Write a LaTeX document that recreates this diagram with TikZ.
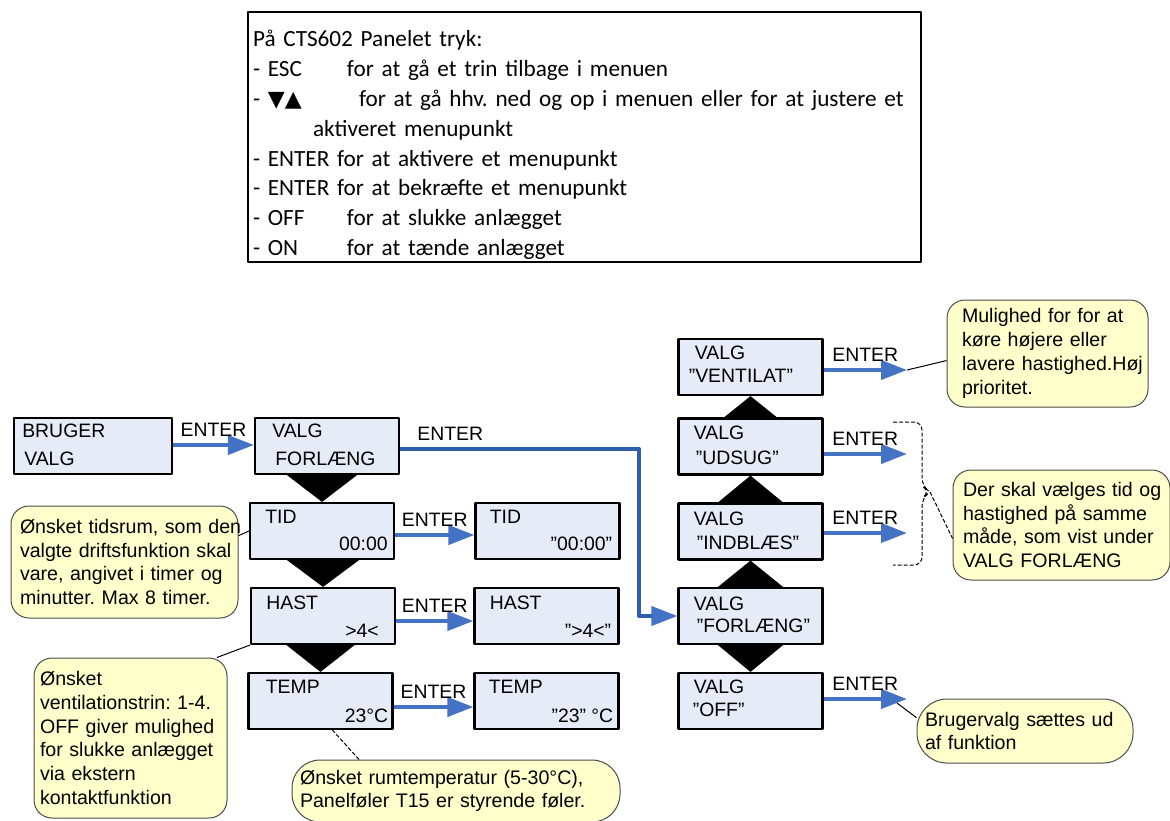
\documentclass[tikz,border=0pt]{standalone}
\usepackage{fontspec}
\setmainfont{Liberation Sans}
\newfontfamily\panelfont{Carlito}
\newfontfamily\symbolfont{DejaVu Sans}
\usetikzlibrary{arrows.meta, calc, positioning}
\definecolor{boxblue}{RGB}{230,236,247}
\definecolor{notefill}{RGB}{255,255,204}
\definecolor{arrowblue}{RGB}{68,114,196}
\definecolor{linkblue}{RGB}{47,95,170}

\begin{document}
\frenchspacing
\begin{tikzpicture}[x=0.5pt, y=-0.5pt, line join=round,
    font=\fontsize{9.7}{11.6}\selectfont,
    menubox/.style={draw=black, line width=1.1pt, fill=boxblue, minimum width=72pt, minimum height=28pt, inner sep=0pt},
    boxtxt/.style={inner sep=0pt},
    note/.style={draw=black!70, line width=0.5pt, fill=notefill, rounded corners=9pt, align=left, inner ysep=0pt, font=\fontsize{9.8}{11.9}\selectfont},
    flow/.style={draw=arrowblue, line width=2pt, -{Triangle[length=13pt, width=9.5pt, color=arrowblue]}},
    enterlbl/.style={above=3.5pt, inner sep=0pt},
    pointer/.style={draw=black, line width=0.5pt},
    panelbox/.style={draw=black, line width=0.9pt, minimum width=336.5pt, minimum height=125pt},
    paneltxt/.style={text width=331.5pt, inner xsep=2.5pt, inner ysep=0pt, align=left, font=\panelfont\fontsize{11.6}{14.9}\selectfont}]
  \useasboundingbox (0,0) rectangle (1170,820);

  % panel keys
  \node[panelbox] (panel) at (584.5,137) {};
  \node[paneltxt] (panel-text) at ($(panel.center)+(0,8)$) {På CTS602 Panelet tryk:\\
    \makebox[47pt][l]{- ESC}for at gå et trin tilbage i menuen\\
    \makebox[53pt][l]{- {\symbolfont\fontsize{11}{11}\selectfont ▼▲}}\mbox{for at gå hhv. ned og op i menuen eller for at justere et}\\
    \hspace*{30pt}aktiveret menupunkt\\
    - ENTER for at aktivere et menupunkt\\
    - ENTER for at bekræfte et menupunkt\\
    \makebox[47pt][l]{- OFF}for at slukke anlægget\\
    \makebox[47pt][l]{- ON}for at tænde anlægget};

  % menu boxes
  \node[menubox, minimum width=79pt] (bruger) at (93,446) {};
  \node[menubox] (valgf) at (327,446) {};
  \node[menubox] (tid) at (322,531) {};
  \node[menubox] (hast) at (323,616) {};
  \node[menubox] (temp) at (320.5,701) {};
  \node[menubox] (tid2) at (547.5,531) {};
  \node[menubox] (hast2) at (546.5,616) {};
  \node[menubox] (temp2) at (546.5,701) {};
  \node[menubox] (ventilat) at (750.5,367) {};
  \node[menubox] (udsug) at (750.5,446.5) {};
  \node[menubox] (indblaes) at (750.5,531.5) {};
  \node[menubox] (forlaeng) at (750.5,616) {};
  \node[menubox] (off) at (750.5,701) {};

  % box texts
  \node[boxtxt, right] (bruger-a) at ($(bruger.north west)+(9,14)$) {BRUGER};
  \node[boxtxt, right] (bruger-b) at ($(bruger.north west)+(11,42)$) {VALG};
  \node[boxtxt, right] (valgf-a) at ($(valgf.north west)+(18,14)$) {VALG};
  \node[boxtxt, right] (valgf-b) at ($(valgf.north west)+(21,42)$) {FORLÆNG};
  \node[boxtxt, right] (tid-a) at ($(tid.north west)+(16,15)$) {TID};
  \node[boxtxt, left] (tid-b) at ($(tid.south east)+(-7,-16)$) {00:00};
  \node[boxtxt, right] (hast-a) at ($(hast.north west)+(16,16)$) {HAST};
  \node[boxtxt, left] (hast-b) at ($(hast.south east)+(-17,-14)$) {>4<};
  \node[boxtxt, right] (temp-a) at ($(temp.north west)+(18,15)$) {TEMP};
  \node[boxtxt, left] (temp-b) at ($(temp.south east)+(-5,-14)$) {23°C};
  \node[boxtxt, right] (tid2-a) at ($(tid2.north west)+(15,15)$) {TID};
  \node[boxtxt, left] (tid2-b) at ($(tid2.south east)+(-8,-16)$) {”00:00"};
  \node[boxtxt, right] (hast2-a) at ($(hast2.north west)+(16,16)$) {HAST};
  \node[boxtxt, left] (hast2-b) at ($(hast2.south east)+(-8,-14)$) {”>4<”};
  \node[boxtxt, right] (temp2-a) at ($(temp2.north west)+(15,15)$) {TEMP};
  \node[boxtxt, left] (temp2-b) at ($(temp2.south east)+(-6,-14)$) {”23" °C};
  \node[boxtxt, right] (ventilat-a) at ($(ventilat.north west)+(17,15)$) {VALG};
  \node[boxtxt, right] (ventilat-b) at ($(ventilat.north west)+(11,38)$) {”VENTILAT”};
  \node[boxtxt, right] (udsug-a) at ($(udsug.north west)+(16,15)$) {VALG};
  \node[boxtxt, right] (udsug-b) at ($(udsug.north west)+(18,40)$) {”UDSUG”};
  \node[boxtxt, right] (indblaes-a) at ($(indblaes.north west)+(16,16)$) {VALG};
  \node[boxtxt, right] (indblaes-b) at ($(indblaes.north west)+(19,40)$) {”INDBLÆS”};
  \node[boxtxt, right] (forlaeng-a) at ($(forlaeng.north west)+(16,17)$) {VALG};
  \node[boxtxt, right] (forlaeng-b) at ($(forlaeng.north west)+(19,39)$) {”FORLÆNG”};
  \node[boxtxt, right] (off-a) at ($(off.north west)+(16,15)$) {VALG};
  \node[boxtxt, right] (off-b) at ($(off.north west)+(15,38)$) {”OFF”};

  % selector triangles
  \fill ($(valgf.south -| tid.north)+(-35,0)$) -- ($(valgf.south -| tid.north)+(35,0)$) -- (tid.north) -- cycle;
  \fill ($(tid.south -| hast.north)+(-36,0)$) -- ($(tid.south -| hast.north)+(36,0)$) -- (hast.north) -- cycle;
  \fill ($(hast.south -| temp.north)+(-34,0)$) -- ($(hast.south -| temp.north)+(34,0)$) -- (temp.north) -- cycle;
  \fill ($(udsug.north)+(-26.5,0)$) -- ($(udsug.north)+(26.5,0)$) -- (ventilat.south) -- cycle;
  \fill ($(indblaes.north)+(-32.5,0)$) -- ($(indblaes.north)+(32.5,0)$) -- (udsug.south) -- cycle;
  \fill ($(forlaeng.north)+(-32.5,0)$) -- ($(forlaeng.north)+(32.5,0)$) -- (indblaes.south) -- cycle;
  \fill ($(forlaeng.south)+(-32.5,0)$) -- ($(forlaeng.south)+(32.5,0)$) -- (off.north) -- cycle;

  % enter arrows
  \coordinate (ventilat-end) at (907,370);
  \coordinate (udsug-end) at (907,454);
  \coordinate (indblaes-end) at (907,533);
  \coordinate (off-end) at (907,699);
  \draw[flow] ([yshift=0.5pt]bruger.east) -- node[enterlbl] (e-bruger) {ENTER} ([yshift=0.5pt]valgf.west);
  \draw[flow, draw=linkblue] ([yshift=-1.5pt]valgf.east) -- node[enterlbl, pos=0.21] (e-valgf) {ENTER} ++(239,0) |- (forlaeng.west);
  \draw[flow] ([yshift=-2pt]tid.east) -- node[enterlbl] (e-tid) {ENTER} ([yshift=-2pt]tid2.west);
  \draw[flow] ([yshift=-2.5pt]hast.east) -- node[enterlbl] (e-hast) {ENTER} ([yshift=-2.5pt]hast2.west);
  \draw[flow] ([yshift=-3pt]temp.east) -- node[enterlbl] (e-temp) {ENTER} ([yshift=-3pt]temp2.west);
  \draw[flow] (ventilat.east |- ventilat-end) -- node[enterlbl] (e-ventilat) {ENTER} (ventilat-end);
  \draw[flow] (udsug.east |- udsug-end) -- node[enterlbl] (e-udsug) {ENTER} (udsug-end);
  \draw[flow] (indblaes.east |- indblaes-end) -- node[enterlbl] (e-indblaes) {ENTER} (indblaes-end);
  \draw[flow] (off.east |- off-end) -- node[enterlbl] (e-off) {ENTER} (off-end);

  % notes
  \node[note, text width=104.5pt, inner xsep=4.5pt, minimum height=56pt] (calltid) at (124.5,562)
    {\mbox{Ønsket tidsrum, som den}\\\mbox{valgte driftsfunktion skal}\\\mbox{vare, angivet i timer og}\\minutter. Max 8 timer.};
  \node[note, text width=90.5pt, inner xsep=3pt, minimum height=80pt] (callhast) at (130.5,738)
    {Ønsket\\\mbox{ventilationstrin: 1-4.}\\\mbox{OFF giver mulighed}\\\mbox{for slukke anlægget}\\via ekstern\\kontaktfunktion};
  \node[note, text width=156pt, inner xsep=4pt, minimum height=31pt, rounded corners=14pt] (calltemp) at (456,791)
    {Ønsket rumtemperatur (5-30°C),\\Panelføler T15 er styrende føler.};
  \node[note, text width=85.5pt, inner xsep=7.5pt, minimum height=53.5pt] (callvent) at (1047.5,353.5)
    {Mulighed for for at\\køre højere eller\\\mbox{lavere hastighed.Høj}\\prioritet.};
  \node[note, text width=98.5pt, inner xsep=5pt, minimum height=55pt] (calludsug) at (1061.5,525)
    {\mbox{Der skal vælges tid og}\\\mbox{hastighed på samme}\\\mbox{måde, som vist under}\\VALG FORLÆNG};
  \node[note, text width=100pt, inner xsep=4pt, minimum height=32pt, rounded corners=15pt] (calloff) at (1025,731)
    {Brugervalg sættes ud\\af funktion};

  % note pointers
  \draw[pointer] (calltid.13) -- (tid.west);
  \draw[pointer] (callhast.43) -- (hast.south west);
  \draw[pointer, dash pattern=on 2pt off 1pt] (calltemp.162) -- ([xshift=6pt]temp.south);
  \draw[pointer] (ventilat-end) -- (callvent.184);
  \draw[pointer] ([shift={(-5pt,-2pt)}]off-end) -- (calloff.173);
  \coordinate (brace-top) at (893,422);
  \coordinate (brace-tip) at (930,492);
  \coordinate (brace-bot) at (893,565);
  \draw[pointer, dash pattern=on 2pt off 1pt, rounded corners=4pt] (brace-top) -- (922,422) -- (922,486) -- (brace-tip) -- (922,498) -- (922,565) -- (brace-bot);
  \draw[pointer, dash pattern=on 2pt off 1pt] (brace-tip) -- (calludsug.187);
\end{tikzpicture}
\end{document}
